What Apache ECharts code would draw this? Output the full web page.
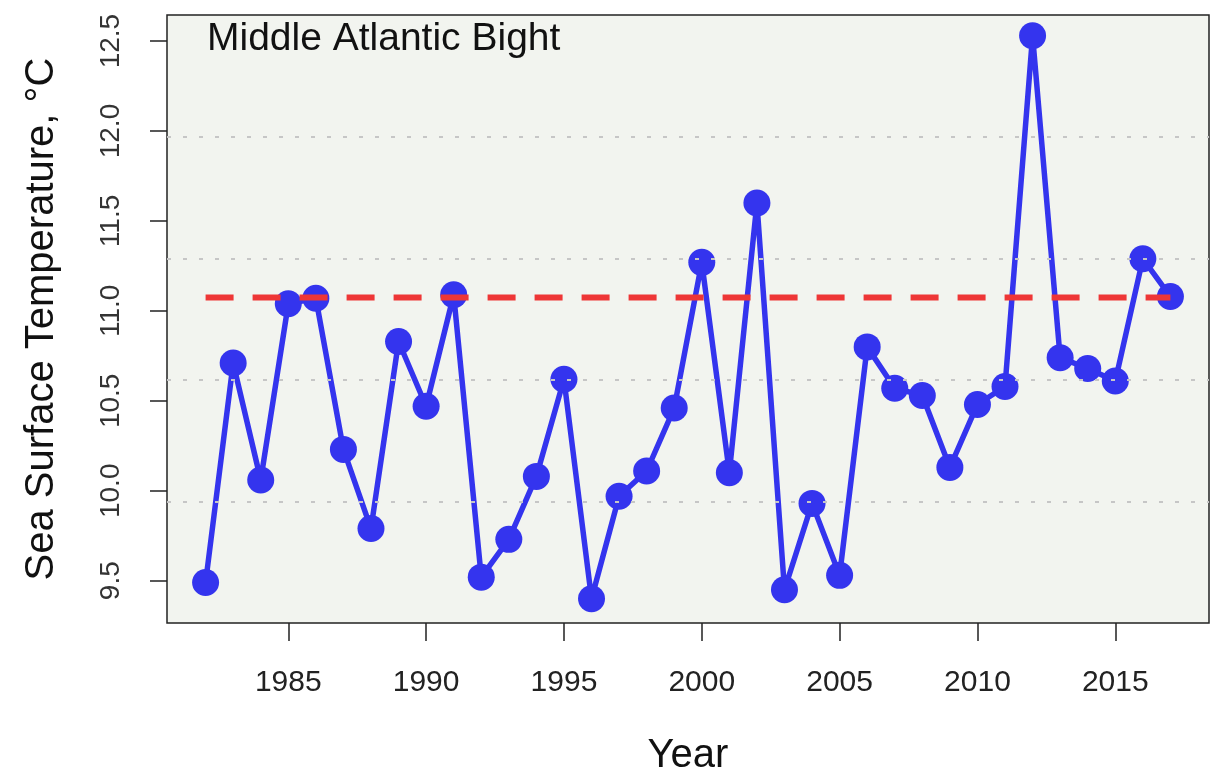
<!DOCTYPE html>
<html>
<head>
<meta charset="utf-8">
<script src="https://cdn.jsdelivr.net/npm/echarts@6/dist/echarts.min.js"></script>
<style>
html,body{margin:0;padding:0;background:#ffffff;}
#chart{width:1211px;height:781px;}
</style>
</head>
<body>
<div id="chart"></div>
<script>
// ---- data ----
const years = [1982,1983,1984,1985,1986,1987,1988,1989,1990,1991,1992,1993,1994,1995,1996,1997,1998,1999,2000,2001,2002,2003,2004,2005,2006,2007,2008,2009,2010,2011,2012,2013,2014,2015,2016,2017];
const sst = [9.49,10.71,10.06,11.04,11.07,10.23,9.79,10.83,10.47,11.09,9.52,9.73,10.08,10.62,9.40,9.97,10.11,10.46,11.27,10.10,11.60,9.45,9.93,9.53,10.80,10.57,10.53,10.13,10.48,10.58,12.53,10.74,10.68,10.61,11.29,11.08];
const referenceMean = 11.075;
const refGridLines = [9.94, 10.62, 11.29, 11.97];
const xTicks = [1985,1990,1995,2000,2005,2010,2015];
const yTicks = [9.5,10.0,10.5,11.0,11.5,12.0,12.5];
const regionLabel = 'Middle Atlantic Bight';
const xTitle = 'Year';
const yTitle = 'Sea Surface Temperature, °C';

// ---- chart ----
const chart = echarts.init(document.getElementById('chart'), null, {renderer:'canvas'});
const font = 'Liberation Sans, Arial, sans-serif';
const seriesData = years.map((y,i)=>[y, sst[i]]);
const meanData = [[years[0], referenceMean],[years[years.length-1], referenceMean]];

const option = {
  animation:false,
  backgroundColor:'#ffffff',
  grid:{left:167, top:15, width:1042, height:608, show:true, backgroundColor:'#f2f4ef', borderColor:'#222222', borderWidth:1.5, containLabel:false},
  xAxis:{
    type:'value', min:1980.6, max:2018.4,
    name:xTitle, nameLocation:'middle', nameGap:113,
    nameTextStyle:{fontFamily:font, fontSize:40, color:'#111111'},
    axisLine:{show:false},
    axisTick:{show:true, customValues:xTicks, length:18, lineStyle:{color:'#222222', width:1.5}},
    axisLabel:{customValues:xTicks, margin:45, fontFamily:font, fontSize:30, color:'#222222', formatter:v=>String(v)},
    splitLine:{show:false}
  },
  yAxis:{
    type:'value', min:9.265, max:12.645,
    name:yTitle, nameLocation:'middle', nameGap:105, nameRotate:90,
    nameTextStyle:{fontFamily:font, fontSize:40, color:'#111111'},
    axisLine:{show:false},
    axisTick:{show:true, customValues:yTicks, length:17, lineStyle:{color:'#222222', width:1.5}},
    axisLabel:{customValues:yTicks, rotate:90, margin:42, fontFamily:font, fontSize:28, color:'#333333', formatter:v=>v.toFixed(1)},
    splitLine:{show:false}
  },
  graphic:[{
    type:'text', left:207, top:20, z:100,
    style:{text:regionLabel, fontFamily:font, fontSize:39, fill:'#111111'}
  }],
  series:[
    {
      type:'line', data:[], silent:true, z:1,
      markLine:{
        silent:true, symbol:['none','none'], label:{show:false},
        lineStyle:{color:'#c6c6c6', width:2, type:[4,12]},
        data:refGridLines.map(v=>({yAxis:v}))
      }
    },
    {
      type:'line', data:seriesData, z:3,
      symbol:'circle', symbolSize:27,
      lineStyle:{color:'#3434ee', width:5.5},
      itemStyle:{color:'#3434ee'}
    },
    {
      type:'line', data:meanData, z:4, symbol:'none',
      lineStyle:{color:'#ee3636', width:6, type:[28,19]}
    }
  ]
};
chart.setOption(option);
</script>
</body>
</html>
